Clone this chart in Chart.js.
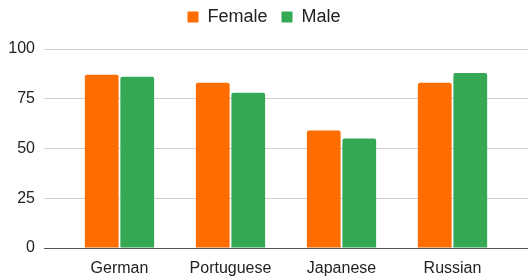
<!DOCTYPE html>
<html>
<head>
<meta charset="utf-8">
<script src="https://cdn.jsdelivr.net/npm/chart.js@4/dist/chart.umd.min.js"></script>
<style>
  html, body { margin: 0; padding: 0; background: #fff; overflow: hidden; }
  canvas { display: block; }
</style>
</head>
<body>
<canvas id="chart" width="528" height="277"></canvas>
<script>
// Chart data
const languages = ['German', 'Portuguese', 'Japanese', 'Russian'];
const femaleScores = [87, 83, 59, 83];
const maleScores = [86, 78, 55, 88];
const yTicks = [0, 25, 50, 75, 100];

const FONT = "'Liberation Sans', Arial, sans-serif";

// Google-style charts leave extra room at both ends of the category axis
const widenCategories = {
    id: 'widenCategories',
    afterLayout(chart) {
        const x = chart.scales.x;
        const extra = 0.18;
        x._startValue -= extra;
        x._valueRange += extra * 2;
    }
};

// Extra space between the legend and the plot
const legendGap = {
    id: 'legendGap',
    beforeInit(chart) {
        const fit = chart.legend.fit;
        chart.legend.fit = function() {
            fit.call(this);
            this.height += 13;
        };
    }
};

const ctx = document.getElementById('chart').getContext('2d');
new Chart(ctx, {
    type: 'bar',
    data: {
        labels: languages,
        datasets: [
            {
                label: 'Female',
                data: femaleScores,
                backgroundColor: '#ff6d01',
                borderRadius: { topLeft: 2, topRight: 2 },
                borderSkipped: 'bottom'
            },
            {
                label: 'Male',
                data: maleScores,
                backgroundColor: '#34a853',
                borderRadius: { topLeft: 2, topRight: 2 },
                borderSkipped: 'bottom'
            }
        ]
    },
    options: {
        responsive: false,
        animation: false,
        categoryPercentage: 0.64,
        barPercentage: 0.95,
        layout: { padding: { top: -6, right: 0, bottom: 0, left: 0 } },
        scales: {
            x: {
                afterFit: (scale) => { scale.height = 29; },
                grid: { display: false },
                border: { display: true, color: '#555', width: 1 },
                ticks: {
                    color: '#222',
                    font: { family: FONT, size: 16 },
                    padding: 3
                }
            },
            y: {
                min: 0,
                max: 100,
                afterBuildTicks: (scale) => {
                    scale.ticks = yTicks.map(v => ({ value: v }));
                },
                afterFit: (scale) => { scale.width = 44; },
                grid: {
                    color: (c) => c.tick && c.tick.value === 0 ? '#555' : '#d0d0d0',
                    drawTicks: false
                },
                border: { display: false },
                ticks: {
                    color: '#222',
                    font: { family: FONT, size: 16 },
                    padding: 9
                }
            }
        },
        plugins: {
            legend: {
                position: 'top',
                labels: {
                    color: '#222',
                    font: { family: FONT, size: 18 },
                    boxWidth: 11,
                    boxHeight: 11,
                    padding: 14
                }
            },
            tooltip: { enabled: false }
        }
    },
    plugins: [widenCategories, legendGap]
});
</script>
</body>
</html>
